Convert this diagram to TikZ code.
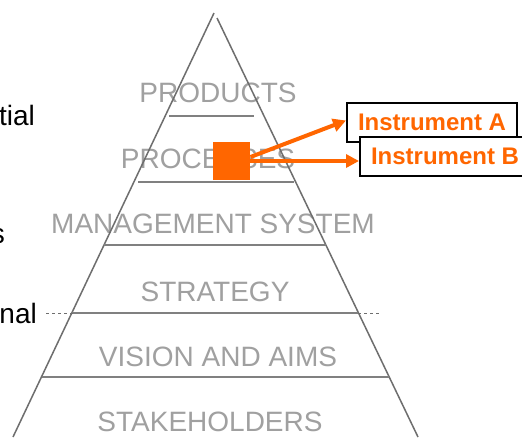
\documentclass[tikz,border=0pt]{standalone}
\usepackage{fontspec}
\setmainfont{Liberation Sans}
\usetikzlibrary{arrows.meta}
\definecolor{signal}{HTML}{FF6600}
\definecolor{levelgray}{HTML}{A0A0A0}
\definecolor{edgegray}{HTML}{6E6E6E}
\definecolor{shelfgray}{HTML}{808080}

\begin{document}
\begin{tikzpicture}[x=1pt,y=-1pt,
		level/.style={color=levelgray,inner sep=0pt,anchor=base,font=\fontsize{28}{28}\selectfont},
		cut/.style={color=black,inner sep=0pt,anchor=base east,font=\fontsize{28}{28}\selectfont},
		shelf/.style={color=shelfgray,line width=2.7pt},
		instr/.style={draw=black,line width=2pt,fill=white,minimum width=170pt,minimum height=39pt,inner sep=0pt,text=signal,font=\bfseries\fontsize{24}{24}\selectfont},
		link/.style={color=signal,line width=4pt,-{Triangle[length=13pt,width=13pt]}}]
		\useasboundingbox (0,0) rectangle (522,437);
		\fill[color=white] (0,0) rectangle (522,437);
		\node[level] (products) at (218,102) {PRODUCTS};
		\node[level] (processes) at (208,168) {PROCESSES};
		\node[level] (mgmt) at (213,233) {MANAGEMENT SYSTEM};
		\node[level] (strategy) at (215,301) {STRATEGY};
		\node[level] (vision) at (218,366) {VISION AND AIMS};
		\node[level] (stake) at (210,431) {STAKEHOLDERS};
		\node[cut] (tial) at (35,125) {tial};
		\node[cut] (frags) at (5,243) {s};
		\node[cut] (nal) at (37,323) {nal};
		\draw[color=edgegray,line width=0.7pt,dashed] (46,313) -- (381,313);
		\draw[color=edgegray,line width=1.5pt] (214,13) -- (13,437);
		\draw[color=edgegray,line width=1.5pt] (217,18) -- (418,437);
		\draw[shelf] (169,116) -- (254,116);
		\draw[shelf] (138,182) -- (294,182);
		\draw[shelf] (104,245) -- (326,245);
		\draw[shelf] (73,313) -- (358,313);
		\draw[shelf] (42,377) -- (389,377);
		\node[fill=signal,minimum size=37.5pt,inner sep=0pt] (marker) at (231.5,161) {};
		\node[instr] (instA) at (432,122.5) {Instrument A};
		\node[instr] (instB) at (445,156.5) {Instrument B};
		\draw[link] ([yshift=4pt]marker.east) -- ([yshift=2pt]instA.west);
		\draw[link] (marker.east) -- (marker.east -| instB.west);
	\end{tikzpicture}
\end{document}
